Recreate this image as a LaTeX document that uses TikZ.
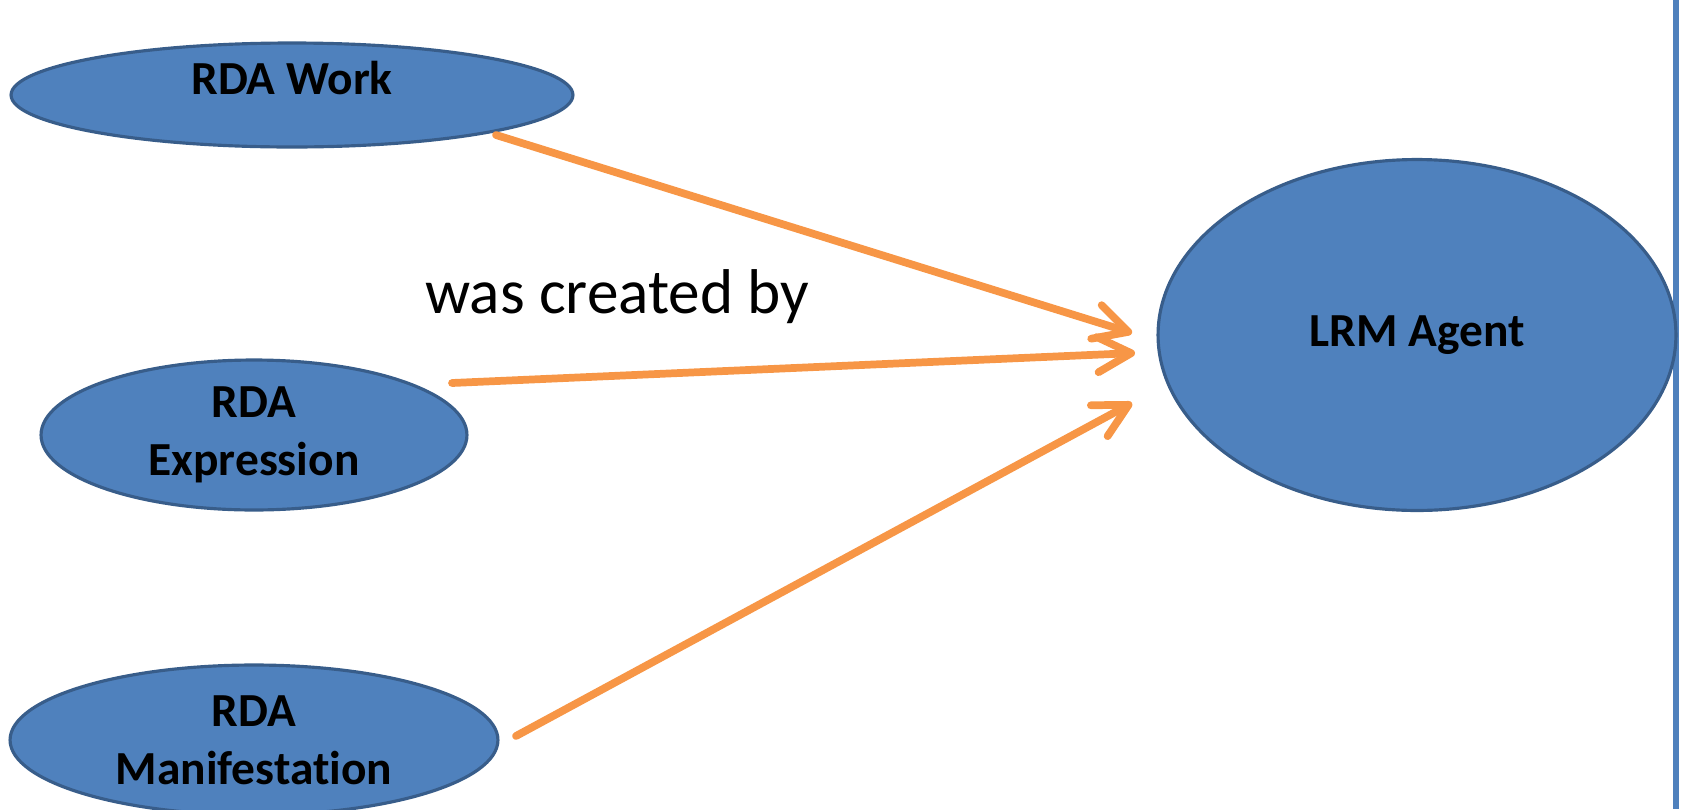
\documentclass[tikz,border=0pt]{standalone}
\usepackage{fontspec}
\setmainfont{Carlito}[Ligatures=NoCommon]
\usepackage{xcolor}
\usepackage{tikz}
\usetikzlibrary{shapes.geometric,arrows.meta}
\definecolor{entityfill}{HTML}{4F81BD}
\definecolor{entityborder}{HTML}{385D8A}
\definecolor{relorange}{HTML}{F79646}

\begin{document}
\begin{tikzpicture}[x=0.02cm, y=-0.02cm,
    entity/.style={ellipse, draw=entityborder, fill=entityfill, line width=1.8pt, inner sep=0pt, align=center, font=\bfseries\fontsize{27}{33}\selectfont},
    rel/.style={draw=relorange, line width=4.4pt, line cap=round, -{Straight Barb[length=19pt, width=20pt, line cap=round, line join=round]}}]
        \useasboundingbox (0, 0) rectangle (1685, 809);
        \draw [line width=3pt, entityfill] (1676, 0) -- (1676, 809);
        \node (w) at (292, 95) [entity, minimum width=11.24cm, minimum height=2.08cm] {\raisebox{0.68cm}{RDA Work}};
        \node (e) at (254, 435) [entity, minimum width=8.52cm, minimum height=3cm] {RDA\\Expression};
        \node (m) at (254, 740) [entity, minimum width=9.76cm, minimum height=3cm] {RDA\\Manifestation};
        \node (a) at (1417, 335) [entity, minimum width=10.36cm, minimum height=7.02cm] {LRM Agent};
        \node (lbl) at (425, 313) [anchor=base west, inner sep=0pt, font=\fontsize{36}{43}\selectfont] {was created by};
        \coordinate (w-out) at (496, 135);
        \coordinate (e-out) at (452, 383);
        \coordinate (m-out) at (516, 736);
        \coordinate (a-in1) at (1132, 333);
        \coordinate (a-in2) at (1135, 353);
        \coordinate (a-in3) at (1132, 403);
        \draw [rel] (w-out) -- (a-in1);
        \draw [rel] (e-out) -- (a-in2);
        \draw [rel] (m-out) -- (a-in3);
    \end{tikzpicture}
\end{document}
